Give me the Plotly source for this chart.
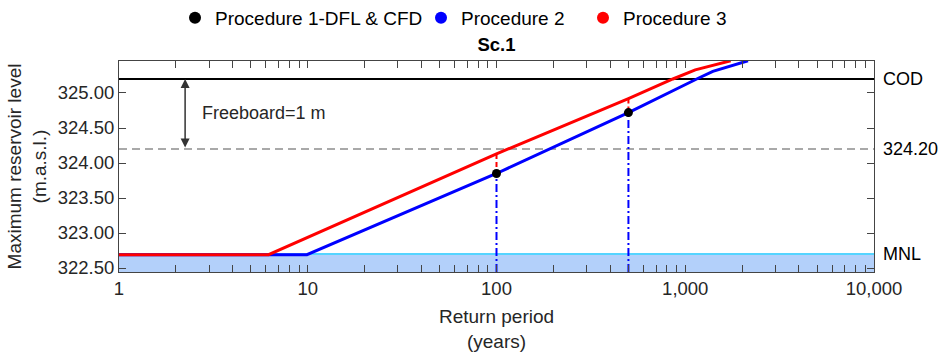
import numpy as np
import plotly.graph_objects as go

# ---- data ----
red_T = [1, 6.2, 100, 500, 860, 1130, 1740]
red_level = [322.69, 322.69, 324.13, 324.92, 325.20, 325.33, 325.46]
blue_T = [1, 9.9, 100, 500, 1150, 1400, 2150]
blue_level = [322.69, 322.69, 323.85, 324.72, 325.20, 325.31, 325.46]
dfl_T = [100, 500]
dfl_level = [323.85, 324.72]
red_at_dfl = [324.13, 324.92]

COD = 325.2
FB_LEVEL = 324.2
MNL = 322.7
Y_MIN, Y_MAX = 322.443, 325.457
freeboard_T = 2.24

x_tickvals = [1, 10, 100, 1000, 10000]
x_ticktext = ["1", "10", "100", "1,000", "10,000"]
y_tickvals = [322.5, 323.0, 323.5, 324.0, 324.5, 325.0]
y_ticktext = ["322.50", "323.00", "323.50", "324.00", "324.50", "325.00"]
right_vals = [MNL, FB_LEVEL, COD]
right_text = ["MNL", "324.20", "COD"]

legend_names = ["Procedure 1-DFL & CFD", "Procedure 2", "Procedure 3"]
legend_colors = ["black", "#0000ff", "#ff0000"]
legend_dot_px = [193, 439, 601]

FONT = "Liberation Sans, Arial, sans-serif"
TXT = "#262626"
AX = "#444444"
W, H = 941, 352

fig = go.Figure()

# blue curve
fig.add_trace(go.Scatter(x=blue_T, y=blue_level, mode="lines",
                         line=dict(color="#0000ff", width=3), showlegend=False))
# red curve
fig.add_trace(go.Scatter(x=red_T, y=red_level, mode="lines",
                         line=dict(color="#ff0000", width=3), showlegend=False))
# verticals
for T, lv, rl in zip(dfl_T, dfl_level, red_at_dfl):
    fig.add_trace(go.Scatter(x=[T, T], y=[Y_MIN, lv], mode="lines",
                             line=dict(color="#0000ff", width=2, dash="8px,3px,2px,3px"),
                             showlegend=False))
    fig.add_trace(go.Scatter(x=[T, T], y=[rl, lv], mode="lines",
                             line=dict(color="#ff0000", width=2, dash="5px,3px"),
                             showlegend=False))
# dots
fig.add_trace(go.Scatter(x=dfl_T, y=dfl_level, mode="markers",
                         marker=dict(color="black", size=9), showlegend=False))

# legend entries (one legend each, for exact placement)
legend_layout = {}
for i, (name, col, px) in enumerate(zip(legend_names, legend_colors, legend_dot_px)):
    lname = "legend" if i == 0 else f"legend{i + 1}"
    fig.add_trace(go.Scatter(x=[None], y=[None], mode="markers", name=name,
                             marker=dict(color=col, size=12), legend=lname))
    legend_layout[lname] = dict(
        orientation="h", xref="container", yref="container",
        x=(px - 18) / W, y=1 - 18 / H, xanchor="left", yanchor="middle",
        font=dict(family=FONT, size=19, color="black"),
        itemwidth=30, bgcolor="rgba(0,0,0,0)", borderwidth=0)

# invisible trace for right axis
fig.add_trace(go.Scatter(x=[None], y=[None], yaxis="y2", showlegend=False))

# shapes
fig.add_shape(type="rect", xref="paper", yref="y", x0=0, x1=1, y0=Y_MIN, y1=MNL,
              fillcolor="#b3d0fa", line=dict(width=0), layer="below")
fig.add_shape(type="line", xref="paper", yref="y", x0=0, x1=1, y0=MNL, y1=MNL,
              line=dict(color="#55d4ff", width=2), layer="below")
fig.add_shape(type="line", xref="paper", yref="y", x0=0, x1=1, y0=COD, y1=COD,
              line=dict(color="black", width=2), layer="below")
fig.add_shape(type="line", xref="paper", yref="y", x0=0, x1=1, y0=FB_LEVEL, y1=FB_LEVEL,
              line=dict(color="#555555", width=1.2, dash="8px,5px"), layer="below")

# freeboard arrow
fig.add_annotation(x=np.log10(freeboard_T), y=COD, ax=np.log10(freeboard_T), ay=FB_LEVEL,
                   xref="x", yref="y", axref="x", ayref="y", text="", showarrow=True,
                   arrowhead=2, arrowside="end+start", arrowsize=1.2, arrowwidth=1.5,
                   arrowcolor="#333333")
fig.add_annotation(x=np.log10(2.7), y=(COD + FB_LEVEL) / 2 + 0.02, xref="x", yref="y",
                   text="Freeboard=1 m", showarrow=False, xanchor="left",
                   font=dict(family=FONT, size=18, color=TXT))

fig.update_layout(
    width=W, height=H,
    margin=dict(l=119, r=67, t=61, b=80, autoexpand=False),
    plot_bgcolor="white", paper_bgcolor="white",
    font=dict(family=FONT, size=18, color=TXT),
    title=dict(text="<b>Sc.1</b>", x=0.5, xref="paper", y=1 - 45 / H, yref="container",
               xanchor="center", yanchor="middle", font=dict(family=FONT, size=18.5, color="black")),
    xaxis=dict(type="log", range=[0, 4], tickvals=x_tickvals, ticktext=x_ticktext,
               ticks="inside", ticklen=7, tickcolor=AX, showline=True, linecolor=AX,
               linewidth=1, mirror="allticks", showgrid=False, zeroline=False,
               automargin=False,
               minor=dict(ticks="inside", ticklen=4, tickcolor=AX, dtick="D1", showgrid=False),
               title=dict(text="Return period<br>(years)", standoff=12,
                          font=dict(family=FONT, size=19, color=TXT)),
               tickfont=dict(family=FONT, size=18.5, color=TXT)),
    yaxis=dict(range=[Y_MIN, Y_MAX], tickvals=y_tickvals, ticktext=y_ticktext,
               ticks="inside", ticklen=7, tickcolor=AX, showline=True, linecolor=AX,
               linewidth=1, mirror="allticks", showgrid=False, zeroline=False,
               automargin=False,
               title=dict(text="Maximum reservoir level<br>(m.a.s.l.)", standoff=6,
                          font=dict(family=FONT, size=19, color=TXT)),
               tickfont=dict(family=FONT, size=18.5, color=TXT)),
    yaxis2=dict(range=[Y_MIN, Y_MAX], overlaying="y", side="right", tickvals=right_vals,
                ticktext=right_text, ticks="", showgrid=False, zeroline=False,
                showline=False, ticklabelstandoff=8, automargin=False,
                tickfont=dict(family=FONT, size=18, color="black")),
    **legend_layout,
)

fig.write_html("out.html")
